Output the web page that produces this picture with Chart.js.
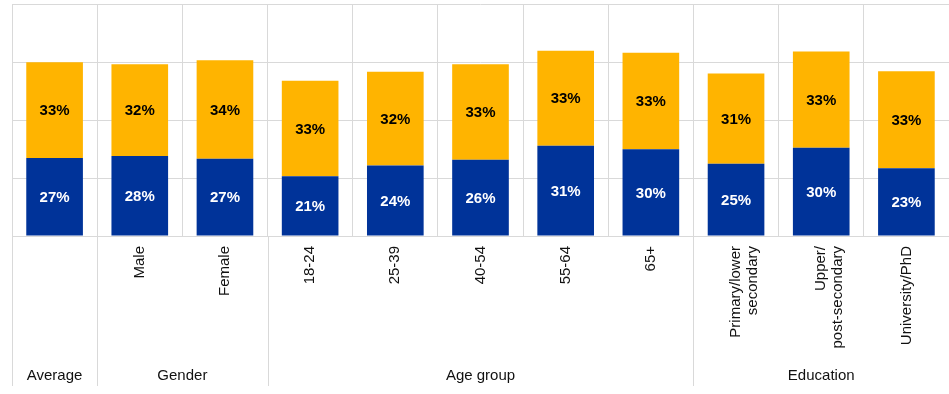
<!DOCTYPE html>
<html>
<head>
<meta charset="utf-8">
<script src="https://cdn.jsdelivr.net/npm/chart.js@4/dist/chart.umd.min.js"></script>
<style>
  html, body { margin: 0; padding: 0; background: #fff; }
  #wrap { width: 949px; height: 394px; position: relative; }
</style>
</head>
<body>
<div id="wrap"><canvas id="c"></canvas></div>
<script>
const categories = ['', 'Male', 'Female', '18-24', '25-39', '40-54', '55-64', '65+',
  ['Primary/lower', 'secondary'], ['Upper/', 'post-secondary'], 'University/PhD'];
const blueValues   = [26.9, 27.6, 26.6, 20.6, 24.3, 26.3, 31.1, 29.9, 24.9, 30.4, 23.4];
const orangeValues = [33.0, 31.6, 34.0, 32.9, 32.3, 32.9, 32.8, 33.3, 31.1, 33.2, 33.4];
const groupLabels = ['Average', 'Gender', 'Age group', 'Education'];
const groupSizes  = [1, 2, 5, 3];
const yTicks = [0, 20, 40, 60, 80];

const BLUE = '#003399';
const ORANGE = '#FFB400';
const GRID = '#d9d9d9';

const valueLabels = {
  id: 'valueLabels',
  afterDatasetsDraw(chart) {
    const ctx = chart.ctx;
    ctx.save();
    ctx.font = 'bold 15px "Liberation Sans", Arial, sans-serif';
    ctx.textAlign = 'center';
    ctx.textBaseline = 'middle';
    chart.data.datasets.forEach((ds, di) => {
      const meta = chart.getDatasetMeta(di);
      meta.data.forEach((el, i) => {
        const p = el.getCenterPoint();
        ctx.fillStyle = ds.labelColor;
        ctx.fillText(Math.round(ds.data[i]) + '%', p.x, p.y + 1);
      });
    });
    ctx.restore();
  }
};

const groupAxis = {
  id: 'groupAxis',
  afterDraw(chart) {
    const ctx = chart.ctx;
    const x = chart.scales.x;
    const area = chart.chartArea;
    const n = categories.length;
    const w = (x.getPixelForValue(n - 1) - x.getPixelForValue(0)) / (n - 1);
    const edge = i => x.getPixelForValue(i) - w / 2;
    ctx.save();
    ctx.strokeStyle = GRID;
    ctx.lineWidth = 1;
    ctx.font = '15px "Liberation Sans", Arial, sans-serif';
    ctx.fillStyle = '#111';
    ctx.textAlign = 'center';
    ctx.textBaseline = 'middle';
    let start = 0;
    groupSizes.forEach((s, gi) => {
      const x0 = edge(start);
      const x1 = edge(start + s);
      ctx.beginPath();
      ctx.moveTo(Math.round(x0) + 0.5, area.bottom);
      ctx.lineTo(Math.round(x0) + 0.5, 386);
      ctx.stroke();
      ctx.fillText(groupLabels[gi], (x0 + x1) / 2, 376);
      start += s;
    });
    ctx.restore();
  }
};

new Chart(document.getElementById('c'), {
  type: 'bar',
  data: {
    labels: categories,
    datasets: [
      { label: 'Blue', data: blueValues, backgroundColor: BLUE, labelColor: '#ffffff',
        barPercentage: 0.665, categoryPercentage: 1.0 },
      { label: 'Orange', data: orangeValues, backgroundColor: ORANGE, labelColor: '#000000',
        barPercentage: 0.665, categoryPercentage: 1.0 }
    ]
  },
  options: {
    responsive: true,
    maintainAspectRatio: false,
    animation: false,
    layout: { padding: { left: 12, top: 4, right: 0, bottom: 0 } },
    plugins: { legend: { display: false }, tooltip: { enabled: false } },
    scales: {
      x: {
        stacked: true,
        offset: true,
        grid: { display: true, offset: true, color: GRID, drawTicks: false, lineWidth: 1 },
        border: { display: true, color: GRID },
        ticks: {
          autoSkip: false, minRotation: 90, maxRotation: 90, padding: 10,
          color: '#111',
          font: { family: '"Liberation Sans", Arial, sans-serif', size: 15, lineHeight: 1.1 }
        },
        afterFit(scale) { scale.height = 158; }
      },
      y: {
        stacked: true,
        min: yTicks[0],
        max: yTicks[yTicks.length - 1],
        afterBuildTicks(scale) { scale.ticks = yTicks.map(v => ({ value: v })); },
        grid: { color: GRID, drawTicks: false, lineWidth: 1 },
        border: { display: false },
        ticks: { display: false },
        afterFit(scale) { scale.width = 0; }
      }
    }
  },
  plugins: [valueLabels, groupAxis]
});
</script>
</body>
</html>
